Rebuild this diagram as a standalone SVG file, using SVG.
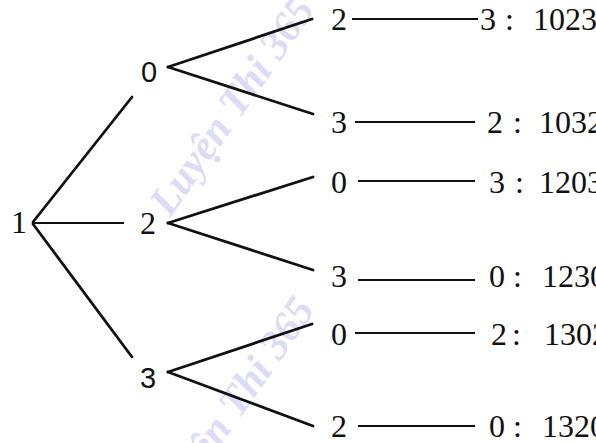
<svg xmlns="http://www.w3.org/2000/svg" width="596" height="443" viewBox="0 0 596 443">
<style>
.t{font-family:"Liberation Serif","Times New Roman",serif;font-size:32px;fill:#111}
.s{font-family:"Liberation Sans",Arial,sans-serif;font-size:29px;fill:#111}
.e{stroke:#111;stroke-width:2.8;stroke-linecap:round;fill:none}
.h{stroke:#111;stroke-width:2;fill:none}
.w{font-family:"Liberation Serif","Times New Roman",serif;font-size:42px;font-style:italic;font-weight:bold;fill:#dcdcf7}
</style>
<rect width="596" height="443" fill="#fff"/>
<g id="watermark">
<text class="w" transform="translate(170,218) rotate(-55)">Luyện Thi 365</text>
<text class="w" transform="translate(170,518) rotate(-55)">Luyện Thi 365</text>
</g>
<g id="connectors">
<line class="e" x1="33" y1="222" x2="132" y2="97"/>
<line class="h" x1="33" y1="223" x2="124" y2="223"/>
<line class="e" x1="33" y1="224" x2="132" y2="357"/>
<line class="e" x1="168" y1="67" x2="312" y2="19"/>
<line class="e" x1="168" y1="67" x2="313" y2="114"/>
<line class="e" x1="168" y1="223" x2="313" y2="177"/>
<line class="e" x1="168" y1="223" x2="313" y2="270"/>
<line class="e" x1="168" y1="372" x2="312" y2="324"/>
<line class="e" x1="168" y1="372" x2="313" y2="426"/>
<line class="h" x1="352" y1="19" x2="478" y2="19"/>
<line class="h" x1="355" y1="122" x2="475" y2="122"/>
<line class="h" x1="358" y1="181" x2="475" y2="181"/>
<line class="h" x1="358" y1="280" x2="475" y2="280"/>
<line class="h" x1="355" y1="333" x2="475" y2="333"/>
<line class="h" x1="358" y1="426" x2="475" y2="426"/>
</g>
<g id="n1"><text class="t" x="11" y="233">1</text></g>
<g id="n0"><text class="s" x="141" y="82">0</text></g>
<g id="n2"><text class="t" x="140" y="234">2</text></g>
<g id="n3"><text class="s" x="140" y="388">3</text></g>
<g id="r1"><text class="t" x="331" y="30">2</text><text class="t" x="480" y="30">3</text><text class="t" x="505" y="30">:</text><text class="t" x="533" y="30">1023</text></g>
<g id="r2"><text class="t" x="331" y="133">3</text><text class="t" x="487" y="133">2</text><text class="t" x="513" y="133">:</text><text class="t" x="539" y="133">1032</text></g>
<g id="r3"><text class="t" x="331" y="193">0</text><text class="t" x="489" y="193">3</text><text class="t" x="515" y="193">:</text><text class="t" x="539" y="193">1203</text></g>
<g id="r4"><text class="t" x="331" y="287">3</text><text class="t" x="489" y="287">0</text><text class="t" x="513" y="287">:</text><text class="t" x="542" y="287">1230</text></g>
<g id="r5"><text class="t" x="331" y="345">0</text><text class="t" x="491" y="345">2</text><text class="t" x="512" y="345">:</text><text class="t" x="544" y="345">1302</text></g>
<g id="r6"><text class="t" x="331" y="437">2</text><text class="t" x="489" y="437">0</text><text class="t" x="513" y="437">:</text><text class="t" x="542" y="437">1320</text></g>
</svg>
